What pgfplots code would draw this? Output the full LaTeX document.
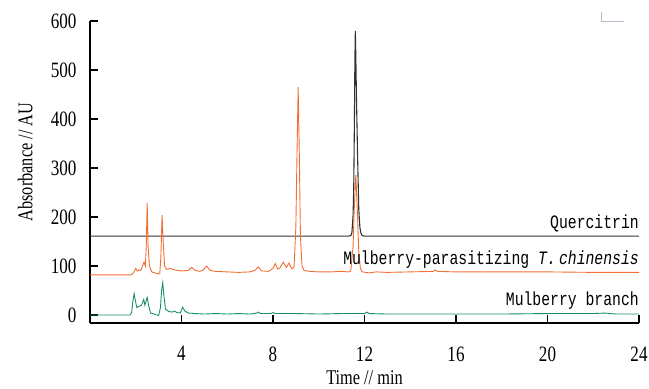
\documentclass[border=0pt]{standalone}
\usepackage{pgfplots}
\pgfplotsset{compat=1.18}
\usepackage{fontspec}
\setmainfont{Liberation Serif}
\newfontfamily\tickfont[FakeStretch=0.78]{Liberation Serif}
\newfontfamily\monofont[FakeStretch=0.78]{Liberation Mono}
\definecolor{qgray}{RGB}{50,50,50}
\definecolor{oran}{RGB}{240,110,50}
\definecolor{gree}{RGB}{25,145,95}
\begin{document}
\begin{tikzpicture}
\path[use as bounding box] (-90bp,-66bp) rectangle (559bp,323bp);
\begin{axis}[
  at={(0,0)}, anchor=south west,
  scale only axis, width=549bp, height=302bp,
  xmin=0, xmax=24, ymin=-16.3, ymax=600,
  axis lines*=left,
  axis line style={line width=1.6pt, shorten >=0pt, shorten <=0pt},
  xtick={4,8,12,16,20,24}, ytick={0,100,...,600},
  tick align=inside, major tick length=8bp,
  tick style={line width=1.4pt, black},
  /pgf/number format/assume math mode=true,
  ticklabel style={font=\tickfont\fontsize{22}{24}\selectfont},
  xticklabel shift=20bp,
  yticklabel shift=10bp,
  label style={font=\tickfont\fontsize{21}{24}\selectfont},
  xlabel={Time // min}, ylabel={Absorbance // AU},
  xlabel style={at={(axis description cs:0.5,-0.18)}, anchor=center},
  ylabel style={at={(axis description cs:-0.118,0.533)}, anchor=center, rotate=0},
  clip=false,
]
% Quercitrin
\addplot[qgray, line width=1.1pt] coordinates {
(0,161)(11.3,161)(11.4,162)(11.45,168)(11.5,203)(11.53,260)(11.56,400)(11.58,520)(11.6,580)(11.62,530)(11.65,440)(11.7,320)(11.75,215)(11.8,178)(11.85,166)(11.9,162)(12,161)(24,161)};
% Mulberry-parasitizing
\addplot[oran, line width=0.9pt] coordinates {
(0,82)(1.8,82)(1.9,86)(2.0,95)(2.07,90)(2.15,92)(2.22,91)(2.3,100)(2.36,108)(2.42,100)(2.46,140)(2.5,229)(2.54,140)(2.6,100)(2.7,88)(2.9,85)(3.05,84)(3.1,120)(3.15,204)(3.2,150)(3.26,100)(3.35,93)(3.5,95)(3.7,92)(4.0,90)(4.3,91)(4.45,97)(4.6,91)(4.8,89)(4.95,92)(5.1,100)(5.25,91)(5.5,89)(6.0,88)(6.5,87)(7.0,88)(7.2,91)(7.36,98)(7.5,90)(7.8,89)(8.0,95)(8.1,105)(8.2,94)(8.3,96)(8.45,108)(8.58,97)(8.7,106)(8.82,94)(8.92,98)(9.0,180)(9.05,330)(9.1,465)(9.15,330)(9.2,160)(9.27,100)(9.35,91)(9.6,89)(10.0,88)(10.5,88)(11.0,89)(11.3,88)(11.4,90)(11.5,140)(11.55,215)(11.62,286)(11.68,220)(11.75,130)(11.82,95)(11.9,88)(12.2,86)(12.5,88)(13,87)(14,88)(15,89)(15.1,92)(15.2,89)(16,88)(18,88)(20,88)(22,87)(24,87)};
% Mulberry branch
\addplot[gree, line width=0.9pt] coordinates {
(0,0)(1.75,0)(1.82,5)(1.88,30)(1.93,44)(1.98,30)(2.05,15)(2.15,18)(2.25,20)(2.3,26)(2.35,32)(2.4,20)(2.45,28)(2.5,36)(2.56,20)(2.65,4)(2.8,2)(3.0,-1)(3.08,15)(3.13,50)(3.18,66)(3.23,40)(3.3,12)(3.45,7)(3.6,6)(3.7,8)(3.8,5)(3.95,4)(4.05,16)(4.15,8)(4.3,4)(4.6,3)(5,2)(5.5,3)(6,2)(6.5,3)(7,2)(7.3,4)(7.36,6)(7.45,3)(7.9,3)(8.0,5)(8.1,3)(9,3)(10,2)(11,3)(12,3)(12.1,6)(12.2,3)(13,2)(14,2)(16,2)(18,2)(20,3)(22,3)(22.5,4)(23,2)(24,2)};
\node[anchor=base east, inner sep=0pt, font=\monofont\fontsize{19}{22}\selectfont] at (axis cs:24,177) {Quercitrin};
\node[anchor=base east, inner sep=0pt, font=\monofont\fontsize{19}{22}\selectfont] at (axis cs:24,104) {Mulberry-parasitizing \textit{T.\,chinensis}};
\node[anchor=base east, inner sep=0pt, font=\monofont\fontsize{19}{22}\selectfont] at (axis cs:24,20) {Mulberry branch};
\end{axis}
\draw[color={rgb,255:red,176;green,188;blue,200}, line width=0.8pt] (511bp,311bp) -- (511bp,302bp) -- (534bp,302bp);
\end{tikzpicture}
\end{document}
